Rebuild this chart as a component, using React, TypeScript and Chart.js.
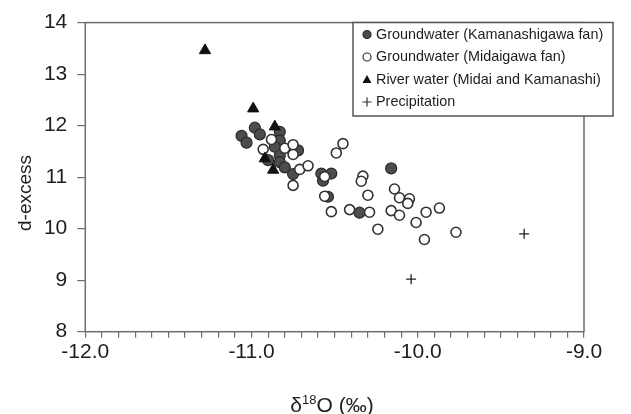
import React, { useEffect, useRef } from 'react';
import { Chart, registerables } from 'chart.js';

Chart.register(...registerables);

// Groundwater (Kamanashigawa fan) - filled circles
const kamanashiX = [-10.98, -10.95, -11.06, -11.03, -10.83, -10.83, -10.86, -10.72, -10.83, -10.90, -10.83, -10.80, -10.75, -10.58, -10.52, -10.57, -10.54, -10.16, -10.35];
const kamanashiY = [11.96, 11.83, 11.80, 11.67, 11.88, 11.71, 11.59, 11.52, 11.42, 11.33, 11.29, 11.19, 11.06, 11.07, 11.07, 10.93, 10.62, 11.17, 10.31];

// Groundwater (Midaigawa fan) - open circles
const midaiX = [-10.88, -10.93, -10.80, -10.75, -10.75, -10.71, -10.66, -10.75, -10.56, -10.56, -10.52, -10.41, -10.49, -10.45, -10.33, -10.34, -10.14, -10.30, -10.11, -10.05, -10.06, -10.29, -10.16, -10.11, -9.95, -9.87, -10.01, -10.24, -9.96, -9.77];
const midaiY = [11.73, 11.54, 11.56, 11.63, 11.44, 11.15, 11.22, 10.84, 11.01, 10.63, 10.33, 10.37, 11.47, 11.65, 11.02, 10.92, 10.77, 10.65, 10.60, 10.58, 10.49, 10.32, 10.35, 10.26, 10.32, 10.40, 10.12, 9.99, 9.79, 9.93];

// River water (Midai and Kamanashi) - triangles
const riverX = [-11.28, -10.99, -10.86, -10.92, -10.87];
const riverY = [13.46, 12.33, 11.98, 11.36, 11.14];

// Precipitation - crosses
const precipX = [-9.36, -10.04];
const precipY = [9.90, 9.02];

const legendLabels = [
  'Groundwater (Kamanashigawa fan)',
  'Groundwater (Midaigawa fan)',
  'River water (Midai and Kamanashi)',
  'Precipitation',
];

const yTitle = 'd-excess';

const toPts = (xs: number[], ys: number[]) => xs.map((x, i) => ({ x, y: ys[i] }));

const FONT = '"Liberation Sans", Arial, sans-serif';
const TEXT = '#1e1e1e';
const AXIS = '#6e6e6e';

const decorPlugin = {
  id: 'decor',
  afterDraw(chart: any) {
    const { ctx, chartArea } = chart;
    const { left, right, top, bottom } = chartArea;
    ctx.save();
    // frame
    ctx.strokeStyle = AXIS;
    ctx.lineWidth = 1.5;
    ctx.strokeRect(left, top, right - left, bottom - top);

    // y title
    ctx.fillStyle = TEXT;
    ctx.font = `19px ${FONT}`;
    ctx.textAlign = 'center';
    ctx.textBaseline = 'middle';
    ctx.save();
    ctx.translate(26, 193);
    ctx.rotate(-Math.PI / 2);
    ctx.fillText(yTitle, 0, 0);
    ctx.restore();

    // x title with superscript
    const big = `21px ${FONT}`;
    const small = `13px ${FONT}`;
    const p1 = 'δ', p2 = '18', p3 = 'O (‰)';
    ctx.font = big;
    const w1 = ctx.measureText(p1).width;
    const w3 = ctx.measureText(p3).width;
    ctx.font = small;
    const w2 = ctx.measureText(p2).width;
    const total = w1 + w2 + w3;
    let x = 332 - total / 2;
    const base = 412;
    ctx.textAlign = 'left';
    ctx.textBaseline = 'alphabetic';
    ctx.font = big;
    ctx.fillText(p1, x, base);
    x += w1;
    ctx.font = small;
    ctx.fillText(p2, x, base - 8);
    x += w2;
    ctx.font = big;
    ctx.fillText(p3, x, base);

    // legend
    const bx = 353, by = 22.5, bw = 260, bh = 93.5;
    ctx.fillStyle = '#ffffff';
    ctx.fillRect(bx, by, bw, bh);
    ctx.strokeStyle = '#555555';
    ctx.lineWidth = 1.5;
    ctx.strokeRect(bx, by, bw, bh);
    const rows = [34.5, 57, 79.5, 102];
    const mx = 367;
    ctx.font = `14.4px ${FONT}`;
    ctx.textBaseline = 'middle';
    ctx.textAlign = 'left';
    rows.forEach((ry, i) => {
      ctx.lineWidth = 1.2;
      if (i === 0) {
        ctx.beginPath();
        ctx.arc(mx, ry, 4, 0, Math.PI * 2);
        ctx.fillStyle = '#4a4a4a';
        ctx.fill();
        ctx.strokeStyle = '#2a2a2a';
        ctx.stroke();
      } else if (i === 1) {
        ctx.beginPath();
        ctx.arc(mx, ry, 4, 0, Math.PI * 2);
        ctx.fillStyle = '#ffffff';
        ctx.fill();
        ctx.strokeStyle = '#333333';
        ctx.stroke();
      } else if (i === 2) {
        ctx.beginPath();
        ctx.moveTo(mx, ry - 4.5);
        ctx.lineTo(mx + 4.5, ry + 3.5);
        ctx.lineTo(mx - 4.5, ry + 3.5);
        ctx.closePath();
        ctx.fillStyle = '#111111';
        ctx.fill();
      } else {
        ctx.beginPath();
        ctx.moveTo(mx - 4.5, ry);
        ctx.lineTo(mx + 4.5, ry);
        ctx.moveTo(mx, ry - 4.5);
        ctx.lineTo(mx, ry + 4.5);
        ctx.strokeStyle = '#333333';
        ctx.stroke();
      }
      ctx.fillStyle = TEXT;
      ctx.fillText(legendLabels[i], 376, ry + 0.5);
    });
    ctx.restore();
  },
};

export default function App() {
  const ref = useRef<HTMLCanvasElement | null>(null);
  useEffect(() => {
    if (!ref.current) return;
    const chart = new Chart(ref.current, {
      type: 'scatter',
      data: {
        datasets: [
          {
            label: legendLabels[2],
            data: toPts(riverX, riverY),
            pointStyle: 'triangle',
            pointRadius: 6.5,
            backgroundColor: '#111111',
            borderColor: '#111111',
            borderWidth: 1,
            order: 0,
          },
          {
            label: legendLabels[1],
            data: toPts(midaiX, midaiY),
            pointStyle: 'circle',
            pointRadius: 5,
            backgroundColor: '#ffffff',
            borderColor: '#333333',
            borderWidth: 1.6,
            order: 1,
          },
          {
            label: legendLabels[0],
            data: toPts(kamanashiX, kamanashiY),
            pointStyle: 'circle',
            pointRadius: 5.5,
            backgroundColor: '#4d4d4d',
            borderColor: '#2a2a2a',
            borderWidth: 1.2,
            order: 2,
          },
          {
            label: legendLabels[3],
            data: toPts(precipX, precipY),
            pointStyle: 'cross',
            pointRadius: 5,
            backgroundColor: '#222222',
            borderColor: '#222222',
            borderWidth: 1.3,
            order: 3,
          },
        ],
      },
      options: {
        animation: false,
        responsive: false,
        devicePixelRatio: 1,
        layout: { padding: { left: 0, right: 47, top: 22, bottom: 0 } },
        plugins: { legend: { display: false }, tooltip: { enabled: false } },
        scales: {
          x: {
            type: 'linear',
            min: -12,
            max: -9,
            border: { display: false },
            grid: {
              display: true,
              drawOnChartArea: false,
              drawTicks: true,
              tickLength: 6,
              color: AXIS,
              lineWidth: 1.2,
            },
            ticks: {
              stepSize: 0.1,
              autoSkip: false,
              maxRotation: 0,
              padding: 2,
              color: TEXT,
              font: { family: FONT, size: 21 },
              callback: (v: any) => {
                const n = Number(v);
                return Math.abs(n - Math.round(n)) < 1e-6 ? n.toFixed(1) : '';
              },
            },
            afterFit: (s: any) => {
              s.height = 82.3;
            },
          },
          y: {
            type: 'linear',
            min: 8,
            max: 14,
            border: { display: false },
            grid: {
              display: true,
              drawOnChartArea: false,
              drawTicks: true,
              tickLength: 8,
              color: AXIS,
              lineWidth: 1.2,
            },
            ticks: {
              stepSize: 1,
              padding: 10,
              color: TEXT,
              font: { family: FONT, size: 21 },
            },
            afterFit: (s: any) => {
              s.width = 85.3;
            },
          },
        },
      },
      plugins: [decorPlugin],
    });
    return () => chart.destroy();
  }, []);
  return (
    <div style={{ position: 'fixed', left: 0, top: 0, width: 631, height: 414, background: '#fff' }}>
      <canvas ref={ref} width={631} height={414} style={{ width: 631, height: 414, display: 'block' }} />
    </div>
  );
}
